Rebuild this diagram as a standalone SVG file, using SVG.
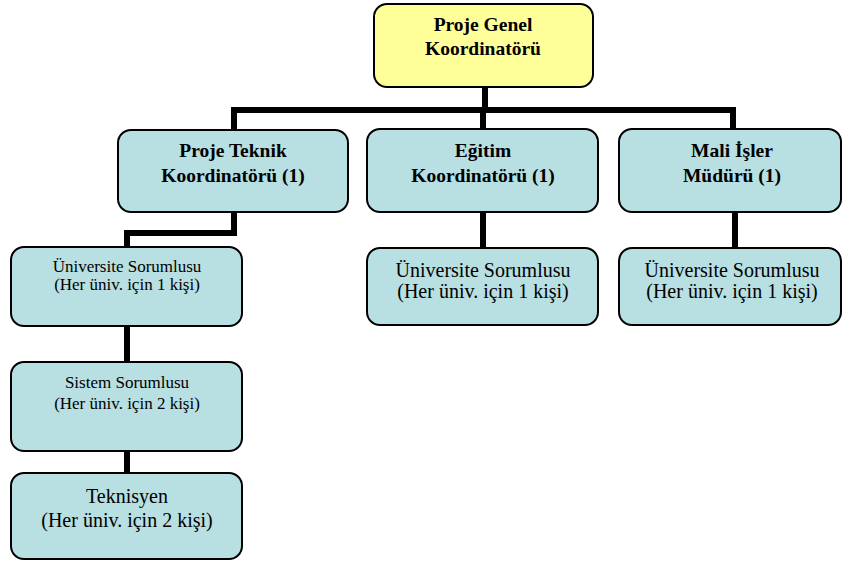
<svg xmlns="http://www.w3.org/2000/svg" width="843" height="562" viewBox="0 0 843 562">
<style>
.box{fill:#B8DFE1;stroke:#000;stroke-width:2}
.top{fill:#FFFF99;stroke:#000;stroke-width:2}
text{font-family:'Liberation Serif','Times New Roman','DejaVu Serif',serif;text-anchor:middle;fill:#000}
.b{font-weight:bold;font-size:19.5px}
.n{font-size:20px}
.s{font-size:17px}
.c{fill:none;stroke:#000;stroke-width:6}
</style>
<rect width="843" height="562" fill="#fff"/>
<g id="connectors">
<path class="c" d="M485 87V110M234 130V110H733V130M483 110V130"/>
<path class="c" d="M234 212V233H127V248"/>
<path class="c" d="M127 326V362M127 452V473"/>
<path class="c" d="M483 212V248M735 212V248"/>
</g>
<g id="n-genel"><rect class="top" x="374" y="4" width="219" height="83" rx="13"/>
<text class="b" x="483" y="31">Proje Genel</text><text class="b" x="483" y="55">Koordinatörü</text></g>
<g id="n-teknik"><rect class="box" x="118" y="130" width="230" height="82" rx="13"/>
<text class="b" x="233" y="157">Proje Teknik</text><text class="b" x="233" y="182">Koordinatörü (1)</text></g>
<g id="n-egitim"><rect class="box" x="367" y="129" width="231" height="83" rx="13"/>
<text class="b" x="483" y="157">Eğitim</text><text class="b" x="483" y="182">Koordinatörü (1)</text></g>
<g id="n-mali"><rect class="box" x="619" y="129" width="222" height="83" rx="13"/>
<text class="b" x="732" y="157">Mali İşler</text><text class="b" x="732" y="182">Müdürü (1)</text></g>
<g id="n-uni1"><rect class="box" x="11" y="247" width="231" height="79" rx="13"/>
<text class="s" x="127" y="272">Üniversite Sorumlusu</text><text class="s" x="127" y="290">(Her üniv. için 1 kişi)</text></g>
<g id="n-sistem"><rect class="box" x="11" y="362" width="231" height="89" rx="13"/>
<text class="s" x="127" y="388">Sistem Sorumlusu</text><text class="s" x="127" y="409">(Her üniv. için 2 kişi)</text></g>
<g id="n-teknisyen"><rect class="box" x="11" y="473" width="231" height="86" rx="13"/>
<text class="n" x="127" y="503">Teknisyen</text><text class="n" x="127" y="527">(Her üniv. için 2 kişi)</text></g>
<g id="n-uni2"><rect class="box" x="367" y="248" width="231" height="77" rx="13"/>
<text class="n" x="483" y="277">Üniversite Sorumlusu</text><text class="n" x="483" y="298">(Her üniv. için 1 kişi)</text></g>
<g id="n-uni3"><rect class="box" x="619" y="248" width="222" height="77" rx="13"/>
<text class="n" x="732" y="277">Üniversite Sorumlusu</text><text class="n" x="732" y="298">(Her üniv. için 1 kişi)</text></g>
</svg>
